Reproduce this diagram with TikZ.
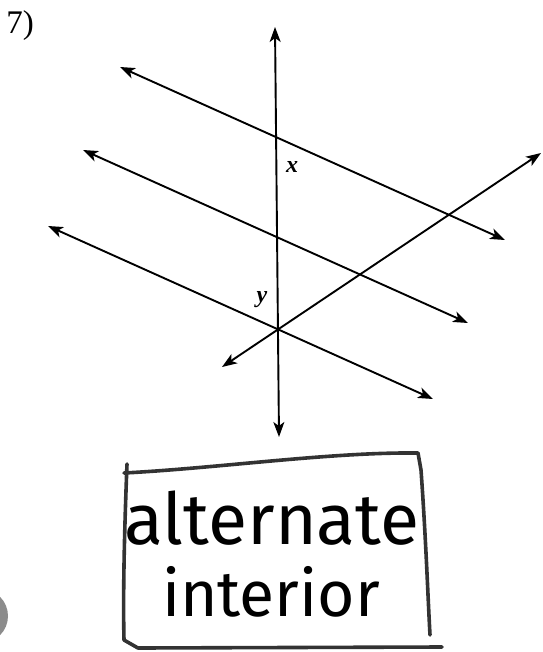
\documentclass[tikz,border=0pt]{standalone}
\usepackage{fontspec}
\setmainfont{Liberation Serif}
\newfontfamily\handfont{Fira Sans}
\usetikzlibrary{arrows.meta}
\begin{document}
\begin{tikzpicture}[x=1pt,y=-1pt,
  geoline/.style={line width=1.9pt, black,
    {Stealth[length=15pt,width=11pt,inset=4pt]}-{Stealth[length=15pt,width=11pt,inset=4pt]}},
  boxline/.style={line width=3.6pt, black!80, line cap=round, line join=round},
  lbl/.style={font=\fontsize{24}{24}\selectfont\bfseries\itshape, inner sep=0pt},
  hand/.style={font=\handfont\fontsize{60}{60}\selectfont, inner sep=0pt}]
\useasboundingbox (0,0) rectangle (542,652);
\fill[white] (0,0) rectangle (542,652);
\begin{scope}
  \clip (0,0) rectangle (542,652);
  \fill[black!45] (-19,616) circle (27);
\end{scope}
% number
\node[font=\fontsize{33}{33}\selectfont, inner sep=0pt] (num) at (20,26) {7)};
% endpoints
\coordinate (vt) at (275,27);
\coordinate (vb) at (279,437);
\coordinate (a1) at (120,67);  \coordinate (b1) at (505,240);
\coordinate (a2) at (83,150);  \coordinate (b2) at (468,323);
\coordinate (a3) at (48,226);  \coordinate (b3) at (433,399);
\coordinate (ta) at (222,367); \coordinate (tb) at (541,153);
\draw[geoline] (vb) -- (vt);
\draw[geoline] (a1) -- (b1);
\draw[geoline] (a2) -- (b2);
\draw[geoline] (a3) -- (b3);
\draw[geoline] (ta) -- (tb);
% angle labels
\node[lbl] (lx) at (292,167) {x};
\node[lbl] (ly) at (262,300) {y};
% hand-drawn box
\draw[boxline] (127,464) .. controls (124,540) and (123,600) .. (124,640) -- (138,648) -- (442,647);
\draw[boxline] (124,473) .. controls (220,468) and (330,452) .. (418,453) -- (421,470) .. controls (426,540) and (428,600) .. (430,635);
\node[hand] (t1) at (272,518) {\resizebox{295pt}{!}{alternate}};
\node[hand] (t2) at (271,592) {\resizebox{218pt}{!}{interior}};
\end{tikzpicture}
\end{document}
